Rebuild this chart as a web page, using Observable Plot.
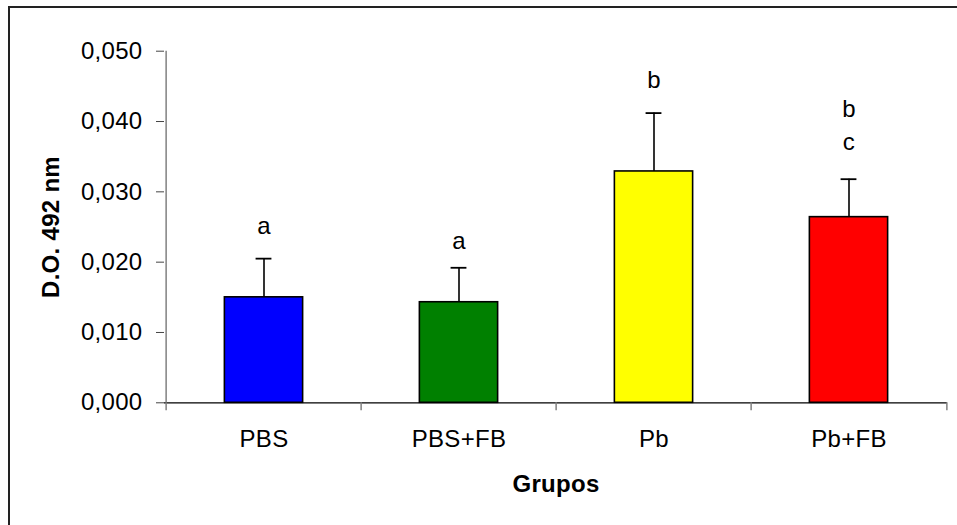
<!DOCTYPE html>
<html>
<head>
<meta charset="utf-8">
<script src="https://cdn.jsdelivr.net/npm/d3@7"></script>
<script src="https://cdn.jsdelivr.net/npm/@observablehq/plot@0.6"></script>
<style>
  html, body { margin: 0; padding: 0; background: #fff; }
  #wrap { position: relative; width: 957px; height: 525px; overflow: hidden; }
  #border { position: absolute; left: 8px; top: 6px; width: 1000px; height: 1000px;
            border-left: 2px solid #222; border-top: 2px solid #222; pointer-events: none; }
  svg { font-family: "Liberation Sans", Arial, sans-serif; letter-spacing: 0.3px; }
</style>
</head>
<body>
<div id="wrap"><div id="border"></div></div>
<script>
const groups = ["PBS", "PBS+FB", "Pb", "Pb+FB"];
const means = [0.0150, 0.0143, 0.0329, 0.0264];
const sds = [0.0055, 0.0049, 0.0083, 0.0054];
const colors = ["#0000ff", "#008000", "#ffff00", "#ff0000"];
const letterGroups = ["PBS", "PBS+FB", "Pb", "Pb+FB", "Pb+FB"];
const letters = ["a", "a", "b", "b", "c"];
const letterY = [0.0251, 0.0230, 0.0458, 0.0417, 0.0370];
const yTicks = [0, 0.01, 0.02, 0.03, 0.04, 0.05];
const yTitle = "D.O. 492 nm";
const xTitle = "Grupos";

const data = groups.map((g, i) => ({group: g, mean: means[i], top: means[i] + sds[i]}));
const letterData = letters.map((l, i) => ({group: letterGroups[i], letter: l, y: letterY[i]}));

const W = 957, H = 525;
const mL = 164, mR = 10, mT = 50.7, mB = 122.7;
const half = (W - mL - mR) / groups.length / 2;
const barInset = half - 39.5;
const capInset = half - 8.3;
const fs = 24;

const chart = Plot.plot({
  width: W, height: H,
  marginLeft: mL, marginRight: mR, marginTop: mT, marginBottom: mB,
  style: {fontFamily: "'Liberation Sans', Arial, sans-serif", fontSize: fs + "px", color: "#000", background: "transparent"},
  x: {domain: groups, padding: 0, axis: null},
  y: {domain: [0, 0.05], axis: null},
  color: {domain: groups, range: colors},
  marks: [
    // y axis line
    Plot.ruleX([groups[0]], {x: d => d, dx: -half, stroke: "#808080", strokeWidth: 1.5}),
    // y axis ticks and labels
    Plot.axisY({ticks: yTicks, tickSize: 8, tickPadding: 14, stroke: "#444",
      tickFormat: d => d.toFixed(3).replace(".", ","), fontSize: fs, label: null}),
    // bars
    Plot.barY(data, {x: "group", y: "mean", fill: "group", stroke: "#000", strokeWidth: 1.6,
      insetLeft: barInset, insetRight: barInset}),
    // error bars
    Plot.ruleX(data, {x: "group", y1: "mean", y2: "top", stroke: "#000", strokeWidth: 1.6}),
    Plot.tickY(data, {x: "group", y: "top", stroke: "#000", strokeWidth: 1.8,
      insetLeft: capInset, insetRight: capInset}),
    // x axis line
    Plot.ruleY([0], {stroke: "#000", strokeWidth: 1.3}),
    // boundary ticks
    Plot.axisX({ticks: groups, tickSize: 8, dx: -half, tickFormat: () => "", stroke: "#808080", strokeWidth: 1.5, label: null}),
    Plot.axisX({ticks: [groups[groups.length - 1]], tickSize: 8, dx: half, tickFormat: () => "", stroke: "#808080", strokeWidth: 1.5, label: null}),
    // category labels
    Plot.axisX({ticks: groups, tickSize: 0, tickPadding: 27, fontSize: fs, label: null}),
    // significance letters
    Plot.text(letterData, {x: "group", y: "y", text: "letter", fontSize: fs, fill: "#000", lineAnchor: "middle"}),
    // titles
    Plot.text([yTitle], {text: d => d, frameAnchor: "left", dx: -(mL - 50.5), rotate: -90,
      fontSize: fs, fontWeight: "bold", fill: "#000", textAnchor: "middle", lineAnchor: "middle"}),
    Plot.text([xTitle], {text: d => d, frameAnchor: "bottom", dy: 82, fontSize: fs,
      fontWeight: "bold", fill: "#000", textAnchor: "middle", lineAnchor: "middle"})
  ]
});
document.getElementById("wrap").prepend(chart);
</script>
</body>
</html>
